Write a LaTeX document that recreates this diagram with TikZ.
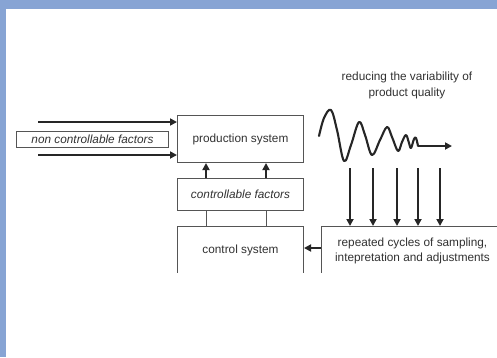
\documentclass[tikz,border=0pt]{standalone}
\usepackage{fontspec}
\setmainfont{Liberation Sans}
\usetikzlibrary{arrows.meta}
\definecolor{bandblue}{RGB}{135,164,212}
\definecolor{boxgray}{RGB}{85,85,85}
\definecolor{txtgray}{RGB}{50,50,50}
\tikzset{
  boxnode/.style={draw=boxgray, line width=1pt, rectangle, inner sep=0pt, anchor=north west,
    text=txtgray, font=\fontsize{11.8}{15}\selectfont},
  arr/.style={line width=1.7pt, draw=black!85, -{Triangle[length=7pt,width=7pt]}},
  plainline/.style={draw=boxgray, line width=1pt},
  labeltext/.style={text=txtgray, font=\fontsize{11.8}{16}\selectfont, align=center, inner sep=0pt}
}
\begin{document}
\begin{tikzpicture}[x=1pt,y=-1pt]
\useasboundingbox (0,0) rectangle (497,357);
\fill[white] (0,0) rectangle (497,357);
\fill[bandblue] (0,0) rectangle (497,9);
\fill[bandblue] (0,0) rectangle (6,357);

\begin{scope}
\clip (6,9) rectangle (497,272);
\node[boxnode, minimum width=126pt, minimum height=47pt] (prod) at (177,115) {production system};
\node[boxnode, minimum width=152pt, minimum height=16pt] (nonc) at (16,131) {\itshape non controllable factors};
\node[boxnode, minimum width=126pt, minimum height=32pt] (ctrlf) at (177,178) {\itshape controllable factors};
\node[boxnode, minimum width=126pt, minimum height=48pt] (ctrls) at (177,226) {control system};
\node[boxnode, minimum width=182pt, minimum height=48pt, align=center] (rep) at (321,226) {repeated cycles of sampling,\\intepretation and adjustments};
\end{scope}

\node[labeltext] (goal) at (407,85) {reducing the variability of\\product quality};

% inputs from the left
\coordinate (in1) at (38,122);
\coordinate (in2) at (38,155);
\draw[arr] (in1) -- (in1 -| prod.west);
\draw[arr] (in2) -- (in2 -| prod.west);

% controllable factors -> production system
\coordinate (c1) at (206,0);
\coordinate (c2) at (266,0);
\draw[arr] (c1 |- ctrlf.north) -- (c1 |- prod.south);
\draw[arr] (c2 |- ctrlf.north) -- (c2 |- prod.south);
\draw[plainline] (c1 |- ctrls.north) -- (c1 |- ctrlf.south);
\draw[plainline] (c2 |- ctrls.north) -- (c2 |- ctrlf.south);

% repeated cycles -> control system
\coordinate (fb) at (0,248);
\draw[arr] (fb -| rep.west) -- (fb -| ctrls.east);

% sampling arrows
\foreach \xx in {350,373,397,418,440}{
  \coordinate (s\xx) at (\xx,168);
  \draw[arr] (s\xx) -- (s\xx |- rep.north);
}

% damped wave
\coordinate (wend) at (452,146);
\draw[line width=2.1pt, black!85, line join=round, line cap=round]
  plot[smooth, tension=0.6] coordinates {(319,136) (324,118) (331,110) (337,130) (344,161) (351,145) (359,122) (365,135) (372,155) (380,140) (387,127) (392,137) (398,151) (402,142) (406,135) (409,143) (411,148) (414,139) (416,138) (418,146)};
\coordinate (wstart) at (418,146);
\draw[arr] (wstart) -- (wend);
\end{tikzpicture}
\end{document}
